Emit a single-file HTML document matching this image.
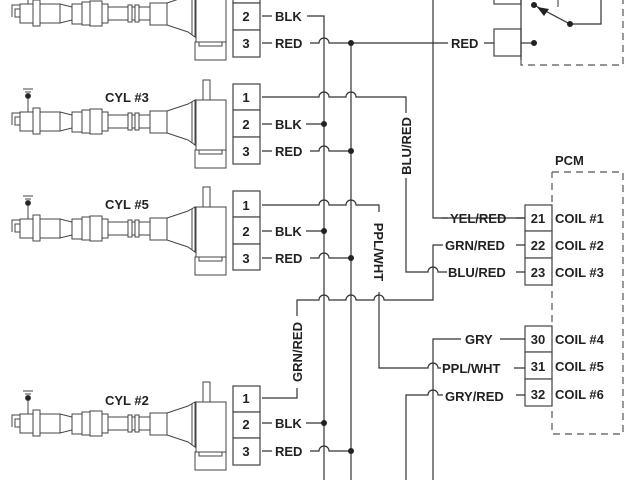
<!DOCTYPE html>
<html><head><meta charset="utf-8"><style>
html,body{margin:0;padding:0;background:#fff;}
svg{display:block;}
text{font-family:"Liberation Sans",sans-serif;font-weight:bold;font-size:13px;fill:#222;}
</style></head><body>
<svg width="640" height="480" viewBox="0 0 640 480" xmlns="http://www.w3.org/2000/svg">
<defs>
<g id="coil" fill="#fff" stroke="#444" stroke-width="1">
  <line x1="28" y1="95" x2="28" y2="112"/>
  <line x1="23" y1="89" x2="33" y2="89"/><line x1="25" y1="92" x2="31" y2="92"/>
  <circle cx="28" cy="96" r="2.5" fill="#222"/>
  <path d="M20 113 H12 V125" fill="none"/>
  <rect x="15" y="117" width="5" height="8"/>
  <rect x="20" y="112" width="40" height="19"/>
  <rect x="33" y="108" width="7" height="26"/>
  <path d="M60 112 L72 115 V128 L60 131 Z"/>
  <rect x="72" y="112" width="10" height="20"/>
  <rect x="82" y="110" width="8" height="23"/>
  <rect x="90" y="109" width="12" height="25"/>
  <rect x="102" y="112" width="6" height="19"/>
  <rect x="108" y="115" width="42" height="13"/>
  <rect x="128" y="113" width="4" height="17"/>
  <rect x="135" y="113" width="4" height="17"/>
  <rect x="150" y="111" width="17" height="22"/>
  <path d="M167 111 L188 104 L195 100 V145 L188 140 L167 133 Z"/>
  <line x1="192" y1="102" x2="192" y2="143"/>
  <rect x="203" y="80" width="7" height="20"/>
  <rect x="196" y="100" width="30" height="50"/>
  <path d="M195 168 V150 H199 V154 H222 V150 H226 V168 Z"/>
</g>
</defs>

<use href="#coil" transform="translate(0,-108)"/>
<use href="#coil"/>
<use href="#coil" transform="translate(0,107)"/>
<use href="#coil" transform="translate(0,302)"/>
<text x="105" y="102">CYL #3</text>
<text x="105" y="209">CYL #5</text>
<text x="105" y="405">CYL #2</text>

<g fill="#fff" stroke="#444" stroke-width="1.2">
  <rect x="233" y="-23" width="27" height="26"/><rect x="233" y="3" width="27" height="27"/><rect x="233" y="30" width="27" height="27"/>
  <rect x="233" y="84" width="27" height="26"/><rect x="233" y="110" width="27" height="27"/><rect x="233" y="137" width="27" height="27"/>
  <rect x="233" y="191" width="27" height="26"/><rect x="233" y="217" width="27" height="27"/><rect x="233" y="244" width="27" height="26"/>
  <rect x="233" y="386" width="27" height="26"/><rect x="233" y="412" width="27" height="26"/><rect x="233" y="438" width="27" height="27"/>
  <rect x="525" y="205" width="27" height="26"/><rect x="525" y="231" width="27" height="27"/><rect x="525" y="258" width="27" height="27"/>
  <rect x="525" y="326" width="27" height="26"/><rect x="525" y="352" width="27" height="27"/><rect x="525" y="379" width="27" height="27"/>
  <rect x="494" y="29" width="27" height="27"/>
  <rect x="494" y="-20" width="27" height="24"/>
</g>
<g text-anchor="middle">
  <text x="246" y="21">2</text><text x="246" y="48">3</text>
  <text x="246" y="102">1</text><text x="246" y="129">2</text><text x="246" y="156">3</text>
  <text x="246" y="210">1</text><text x="246" y="236">2</text><text x="246" y="263">3</text>
  <text x="246" y="403">1</text><text x="246" y="429">2</text><text x="246" y="456">3</text>
  <text x="538" y="223">21</text><text x="538" y="250">22</text><text x="538" y="277">23</text>
  <text x="538" y="344">30</text><text x="538" y="371">31</text><text x="538" y="399">32</text>
</g>

<g fill="none" stroke="#333" stroke-width="1.2">
  <path d="M307 16 H324 V480"/>
  <path d="M351 43 V480"/>
  <path d="M433 0 V218 H525"/>
  <path d="M262 16 H272"/>
  <path d="M262 43 H272 M310 43 H319 a5 5 0 0 1 10 0 H448 M484 43 H494"/>
  <path d="M262 97 H319 a5 5 0 0 1 10 0 H346 a5 5 0 0 1 10 0 H406 V113 M406 178 V272 H428 a5 5 0 0 1 10 0 H447 M516 272 H525"/>
  <path d="M262 124 H272 M306 124 H324"/>
  <path d="M262 151 H272 M310 151 H319 a5 5 0 0 1 10 0 H351"/>
  <path d="M262 205 H319 a5 5 0 0 1 10 0 H346 a5 5 0 0 1 10 0 H379 V212 M379 292 V368 H428 a5 5 0 0 1 10 0 H441 M514 368 H525"/>
  <path d="M262 231 H272 M306 231 H324"/>
  <path d="M262 258 H272 M310 258 H319 a5 5 0 0 1 10 0 H351"/>
  <path d="M262 398 H297 V388 M297 316 V300 H319 a5 5 0 0 1 10 0 H346 a5 5 0 0 1 10 0 H374 a5 5 0 0 1 10 0 H433 V245 H443 M516 245 H525"/>
  <path d="M262 423 H272 M306 423 H324"/>
  <path d="M262 451 H272 M310 451 H319 a5 5 0 0 1 10 0 H351"/>
  <path d="M433 480 V339 H461 M500 339 H525"/>
  <path d="M406 480 V395 H428 a5 5 0 0 1 10 0 H443 M516 395 H525"/>
  <path d="M448 218 H442 M516 218 H525"/>
  <path d="M521 43 H534"/>
  <path d="M534 5 L570 24 H601 V0"/>
  <path d="M521 0 V60"/>
</g>
<g fill="#222">
  <circle cx="324" cy="124" r="3"/><circle cx="324" cy="231" r="3"/><circle cx="324" cy="423" r="3"/>
  <circle cx="351" cy="43" r="3"/><circle cx="351" cy="151" r="3"/><circle cx="351" cy="258" r="3"/><circle cx="351" cy="451" r="3"/>
  <circle cx="534" cy="43" r="3"/><circle cx="534" cy="5" r="3"/><circle cx="570" cy="24" r="3"/>
  <path d="M537 7 L549 9 L544 16 Z"/>
</g>
<g fill="none" stroke="#555" stroke-width="1.2" stroke-dasharray="7,5">
  <path d="M521 60 V65 H623 V0"/>
  <path d="M558 0 V10"/>
  <path d="M552 172 H623 V434 H552 V172"/>
</g>

<text x="275" y="21">BLK</text><text x="275" y="48">RED</text>
<text x="275" y="129">BLK</text><text x="275" y="156">RED</text>
<text x="275" y="236">BLK</text><text x="275" y="263">RED</text>
<text x="275" y="428">BLK</text><text x="275" y="456">RED</text>
<text x="451" y="48">RED</text>
<text x="450" y="223">YEL/RED</text>
<text x="445" y="250">GRN/RED</text>
<text x="448" y="277">BLU/RED</text>
<text x="465" y="344">GRY</text>
<text x="442" y="373">PPL/WHT</text>
<text x="445" y="401">GRY/RED</text>
<text x="555" y="223">COIL #1</text><text x="555" y="250">COIL #2</text><text x="555" y="277">COIL #3</text>
<text x="555" y="344">COIL #4</text><text x="555" y="371">COIL #5</text><text x="555" y="399">COIL #6</text>
<text x="555" y="165">PCM</text>
<text transform="translate(411,146) rotate(-90)" text-anchor="middle">BLU/RED</text>
<text transform="translate(302,352) rotate(-90)" text-anchor="middle">GRN/RED</text>
<text transform="translate(374,252) rotate(90)" text-anchor="middle">PPL/WHT</text>
</svg>
</body></html>
